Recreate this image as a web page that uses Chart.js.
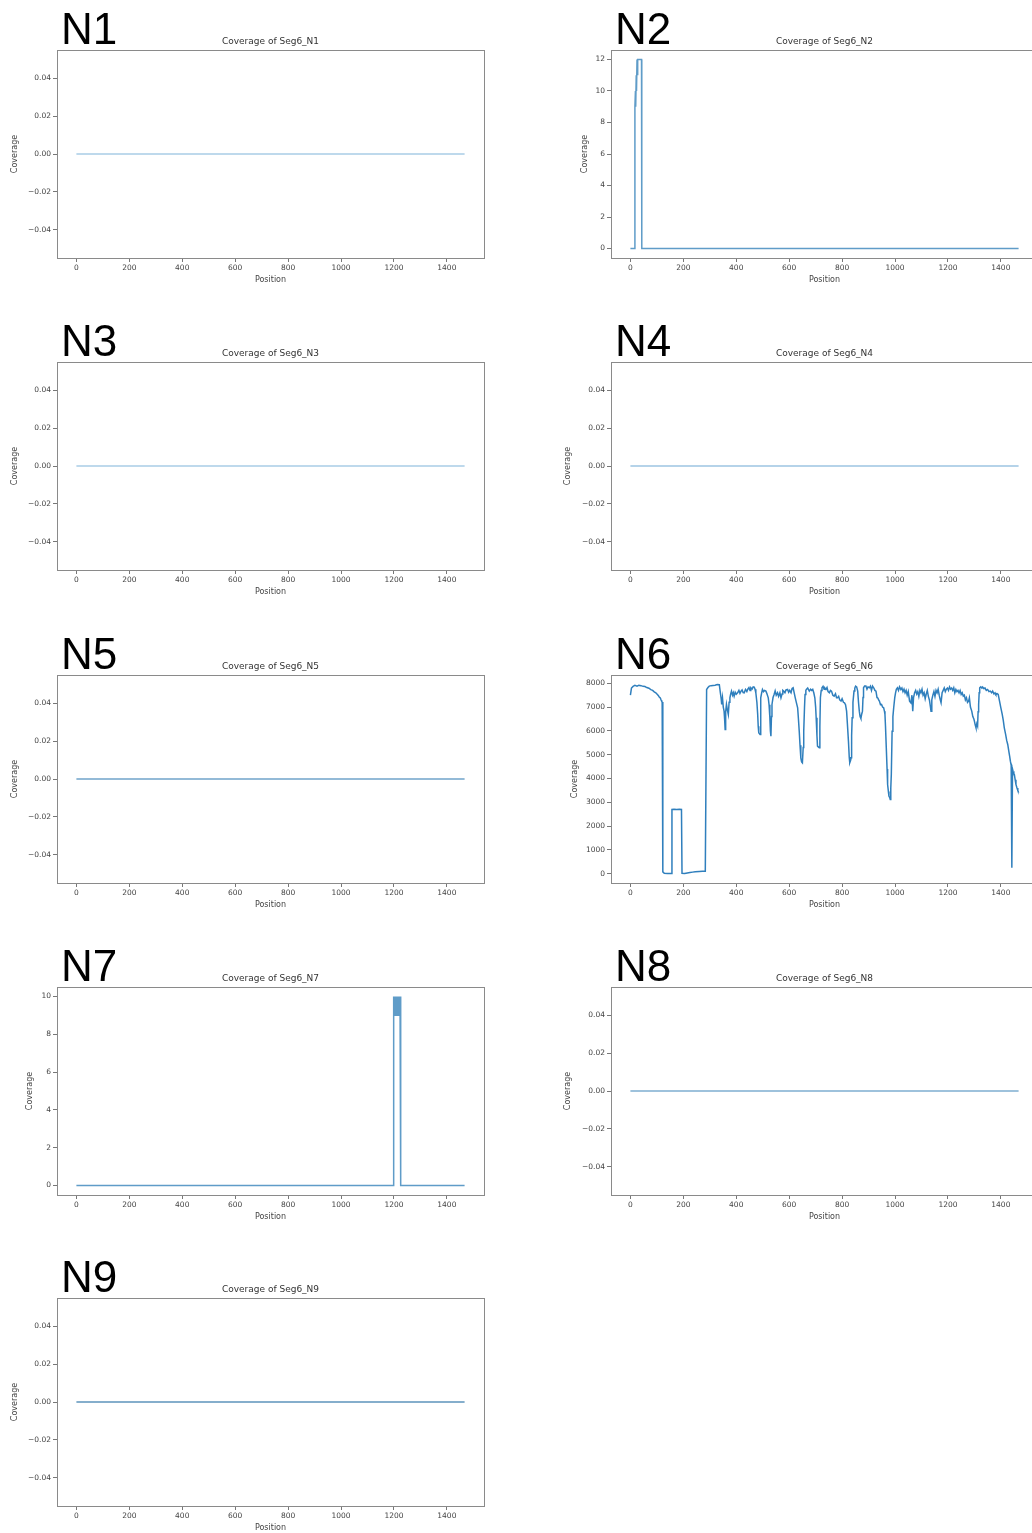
<!DOCTYPE html>
<html>
<head>
<meta charset="utf-8">
<title>Coverage of Seg6</title>
<script src="https://cdn.jsdelivr.net/npm/chart.js@4.4.1/dist/chart.umd.min.js"></script>
<style>
  html, body {
    margin: 0;
    padding: 0;
    background: #ffffff;
  }
  #page {
    position: relative;
    width: 1032px;
    height: 1533px;
    overflow: hidden;
    background: #ffffff;
  }
  .panel {
    position: absolute;
  }
  .panel canvas {
    position: absolute;
    left: 0;
    top: 0;
  }
  .tag {
    position: absolute;
    left: 61px;
    top: 7px;
    font-family: "Liberation Sans", Arial, sans-serif;
    font-size: 44px;
    line-height: 44px;
    color: #000000;
    white-space: nowrap;
  }
</style>
</head>
<body>
<div id="page"></div>

<script>
// Coverage along segment 6, one panel per sample

// Shared x ticks
const xTicks = [0, 200, 400, 600, 800, 1000, 1200, 1400];

// y ticks per panel type
const zeroTicks = [-0.04, -0.02, 0, 0.02, 0.04];
const n2Ticks = [0, 2, 4, 6, 8, 10, 12];
const n6Ticks = [0, 1000, 2000, 3000, 4000, 5000, 6000, 7000, 8000];
const n7Ticks = [0, 2, 4, 6, 8, 10];

// Samples without any coverage
const flatPositions = [0, 1467];
const flatCoverage = [0, 0];

// N2: short block at the start
const n2Positions = [0, 16, 17, 19, 20, 22, 23, 25, 27, 28, 42, 43, 1467];
const n2Coverage = [0, 0, 9, 10, 9, 11, 10, 12, 11, 12, 12, 0, 0];

// N6: full coverage with dropouts
const n6Positions = [
  0, 4, 10, 17, 25, 32, 40, 48, 55, 62, 70, 77, 84, 90, 96, 102, 106, 109, 113, 116, 118, 120, 122,
  123, 128, 140, 150, 156, 157, 165, 175, 185, 193, 195, 205, 215, 225, 235, 245, 260, 272, 283,
  288, 293, 298, 305, 312, 320, 328, 336,
  340, 343, 345, 348, 351, 354, 356, 358, 360, 363, 366, 370, 373, 376, 379, 382, 386, 389, 392, 396,
  400, 405, 410, 414, 418, 422, 426, 430, 435, 440, 443, 448, 452, 455, 460, 464, 468, 471, 474, 478,
  481, 483, 485, 488, 490, 492, 493, 496, 499, 503, 507, 512, 516, 521, 524, 527, 529, 531, 533, 535,
  539, 543, 547, 551, 556, 560, 565, 569, 573, 576, 579, 584, 588, 594, 598, 602, 607, 611, 615, 619,
  623, 627, 632, 635, 638, 641, 644, 647, 650, 653, 655, 658, 660, 663, 665, 670, 676, 681, 685, 689,
  693, 697, 700, 702, 705, 707, 711, 714, 716, 718, 721, 724, 728, 732, 735, 739, 743, 747, 752, 756,
  760, 765, 770, 775, 779, 783, 787, 791, 796, 800, 805, 809, 813, 817, 820, 824, 827, 829, 832, 834,
  836, 838, 841, 845, 848, 851, 855, 859, 862, 865, 868, 871, 874, 877, 879, 881, 885, 890, 894, 898,
  903, 907, 911, 915, 920, 924, 928, 932, 935, 938, 941, 945, 949, 953, 957, 960, 962, 964, 967, 970,
  972, 975, 977, 980, 982, 984, 986, 989, 992, 995, 999, 1002, 1005, 1009,
  1013, 1017, 1022, 1026, 1030, 1034, 1038, 1042, 1046, 1050, 1055, 1060, 1064, 1067, 1070, 1074,
  1078, 1082, 1086, 1090, 1094, 1098, 1102, 1106, 1110, 1114, 1118, 1122, 1126, 1130, 1134, 1136,
  1139, 1143, 1147, 1151, 1155, 1159, 1163, 1167, 1171, 1174, 1178, 1182, 1186, 1190, 1194, 1198,
  1202, 1206, 1210, 1214, 1218, 1222, 1226, 1230, 1234, 1238, 1242, 1246, 1250, 1254, 1258, 1262,
  1266, 1270, 1274, 1278, 1281, 1285, 1290, 1294, 1298, 1300, 1303, 1306, 1309, 1312, 1314, 1316,
  1318, 1320, 1324, 1328, 1331, 1335, 1340, 1345, 1350, 1355, 1360, 1365, 1369, 1374, 1378, 1381,
  1386, 1390, 1395, 1400, 1405, 1409, 1413, 1418, 1422, 1426, 1430, 1433, 1436, 1439, 1441, 1442,
  1444, 1446, 1449, 1451, 1454, 1457, 1461, 1464, 1467
];
const n6Coverage = [
  7500, 7800, 7870, 7910, 7880, 7920, 7900, 7870, 7860, 7820, 7790, 7730, 7700, 7640, 7600, 7530, 7480, 7420, 7380, 7300, 7250, 7210, 7180,
  80, 20, 10, 15, 10, 2700, 2710, 2700, 2710, 2700, 20, 10, 30, 50, 70, 90, 100, 105, 110,
  7740, 7820, 7880, 7900, 7910, 7920, 7950, 7940,
  7600, 7350, 7110, 7390, 7000, 6830, 6500, 6060, 6800, 7110, 6900, 6690, 7200, 7390, 7550, 7670, 7500, 7600, 7460, 7620,
  7540, 7600, 7700, 7580, 7670, 7720, 7610, 7600, 7740, 7650, 7740, 7820, 7700, 7810, 7760, 7850, 7840, 7750, 7600, 7200,
  6690, 6200, 5920, 5880, 5850, 6800, 7390, 7600, 7740, 7650, 7700, 7670, 7560, 7390, 7100, 6550, 6000, 5780, 6600, 7110,
  7400, 7530, 7680, 7500, 7600, 7450, 7600, 7390, 7550, 7700, 7670, 7600, 7720, 7740, 7620, 7700, 7600, 7780, 7810, 7600,
  7390, 7200, 6970, 6500, 5990, 5400, 4870, 4700, 4660, 5300, 5990, 7000, 7530, 7700, 7740, 7800, 7670, 7750, 7700, 7740,
  7600, 7390, 7000, 6550, 5800, 5360, 5320, 5290, 6200, 7390, 7700, 7810, 7870, 7750, 7800, 7740, 7820, 7650, 7600, 7700,
  7670, 7500, 7460, 7560, 7390, 7390, 7450, 7300, 7250, 7350, 7200, 7180, 7100, 6830, 6300, 5570, 4900, 4660, 4750, 4870,
  5800, 6550, 7200, 7670, 7800, 7880, 7850, 7670, 7200, 6830, 6600, 6520, 6700, 6830, 7400, 7810, 7880, 7880, 7750, 7850,
  7810, 7880, 7700, 7880, 7800, 7700, 7670, 7400, 7390, 7300, 7250, 7100, 7110, 7000, 6970, 6830, 6690, 6200, 5290, 4400,
  3750, 3450, 3260, 3200, 3120, 3600, 4170, 5990, 6600, 6970, 7400, 7600, 7750, 7810,
  7700, 7850, 7740, 7800, 7650, 7750, 7600, 7700, 7500, 7650, 7250, 7180, 7500, 6830, 7400, 7600,
  7700, 7550, 7650, 7450, 7700, 7600, 7750, 7500, 7600, 7350, 7550, 7700, 7450, 7300, 7000, 6830,
  7300, 7500, 7650, 7450, 7700, 7600, 7750, 7500, 7300, 7180, 7600, 7700, 7800, 7650, 7750, 7800,
  7700, 7850, 7750, 7800, 7700, 7810, 7600, 7740, 7650, 7700, 7600, 7700, 7530, 7600, 7460, 7500,
  7300, 7390, 7200, 7250, 7390, 7000, 6830, 6600, 6500, 6410, 6250, 6130, 6300, 6200, 6800, 7110,
  7600, 7810, 7850, 7800, 7840, 7780, 7800, 7700, 7740, 7650, 7670, 7600, 7670, 7550, 7600, 7530,
  7560, 7530, 7250, 6970, 6700, 6450, 6130, 5850, 5600, 5430, 5150, 4950, 4730, 4550, 4380, 250,
  4400, 4310, 4200, 4170, 3950, 3750, 3600, 3500, 3400
];

// N7: short block near position 1200
const n7Positions = [0, 1197, 1199, 1201, 1203, 1205, 1207, 1209, 1211, 1213, 1215, 1217, 1219, 1221, 1223, 1225, 1226, 1467];
const n7Coverage = [0, 0, 10, 9, 10, 9, 10, 9, 10, 9, 10, 9, 10, 9, 10, 10, 0, 0];

// Panel placement (layout only)
const panels = [
  { name: "N1", left: 0, top: 0, pos: flatPositions, cov: flatCoverage, ticks: zeroTicks, color: "#a8cce6", pad: 10 },
  { name: "N2", left: 554, top: 0, pos: n2Positions, cov: n2Coverage, ticks: n2Ticks, color: "#5f9cc8", pad: 26 },
  { name: "N3", left: 0, top: 312, pos: flatPositions, cov: flatCoverage, ticks: zeroTicks, color: "#a8cce6", pad: 10 },
  { name: "N4", left: 554, top: 312, pos: flatPositions, cov: flatCoverage, ticks: zeroTicks, color: "#9cc4e2", pad: 9 },
  { name: "N5", left: 0, top: 625, pos: flatPositions, cov: flatCoverage, ticks: zeroTicks, color: "#6fa3ca", pad: 10 },
  { name: "N6", left: 554, top: 625, pos: n6Positions, cov: n6Coverage, ticks: n6Ticks, color: "#2f7fbd", pad: 16 },
  { name: "N7", left: 0, top: 937, pos: n7Positions, cov: n7Coverage, ticks: n7Ticks, color: "#5f9cc8", pad: 25 },
  { name: "N8", left: 554, top: 937, pos: flatPositions, cov: flatCoverage, ticks: zeroTicks, color: "#7eaed0", pad: 9 },
  { name: "N9", left: 0, top: 1248, pos: flatPositions, cov: flatCoverage, ticks: zeroTicks, color: "#5d93bb", pad: 10 },
];

const CANVAS_W = 490;
const CANVAS_H = 285;
const AREA_LEFT = 57;
const AREA_BOTTOM = 258;

// Matplotlib-like autoscale: 5% margin, +-0.05 for constant data
function autoLimits(values) {
  let lo = Math.min(...values);
  let hi = Math.max(...values);
  if (lo === hi) {
    lo -= 0.05;
    hi += 0.05;
  }
  const m = (hi - lo) * 0.05;
  return { min: lo - m, max: hi + m };
}

function formatTick(value, ticks) {
  const step = ticks[1] - ticks[0];
  const txt = step < 1 ? value.toFixed(2) : String(value);
  return txt.replace("-", "\u2212");
}

// Draws the full axes frame
const framePlugin = {
  id: "frame",
  afterDraw(chart) {
    const { ctx, chartArea } = chart;
    ctx.save();
    ctx.strokeStyle = "#8a8a8a";
    ctx.lineWidth = 1;
    ctx.strokeRect(
      Math.round(chartArea.left) + 0.5,
      Math.round(chartArea.top) + 0.5,
      Math.round(chartArea.right - chartArea.left),
      Math.round(chartArea.bottom - chartArea.top)
    );
    ctx.restore();
  },
};

function buildPanel(p) {
  const page = document.getElementById("page");
  const box = document.createElement("div");
  box.className = "panel";
  box.style.left = p.left + "px";
  box.style.top = p.top + "px";
  box.style.width = CANVAS_W + "px";
  box.style.height = CANVAS_H + "px";

  const canvas = document.createElement("canvas");
  canvas.width = CANVAS_W;
  canvas.height = CANVAS_H;
  canvas.style.width = CANVAS_W + "px";
  canvas.style.height = CANVAS_H + "px";
  box.appendChild(canvas);

  const tag = document.createElement("div");
  tag.className = "tag";
  tag.textContent = p.name;
  box.appendChild(tag);

  page.appendChild(box);

  const xLim = autoLimits(p.pos);
  const yLim = autoLimits(p.cov);
  const points = p.pos.map((x, i) => ({ x: x, y: p.cov[i] }));

  const tickFont = { family: "DejaVu Sans", size: 7.5 };
  const labelFont = { family: "DejaVu Sans", size: 8, lineHeight: 1.2 };

  new Chart(canvas, {
    type: "line",
    data: {
      datasets: [
        {
          data: points,
          borderColor: p.color,
          borderWidth: 1.5,
          pointRadius: 0,
          tension: 0,
          fill: false,
        },
      ],
    },
    options: {
      responsive: false,
      animation: false,
      devicePixelRatio: 1,
      layout: {
        padding: { left: p.pad, right: CANVAS_W - 484, top: 0, bottom: 0 },
      },
      plugins: {
        legend: { display: false },
        tooltip: { enabled: false },
        title: {
          display: true,
          text: "Coverage of Seg6_" + p.name,
          fullSize: false,
          color: "#333333",
          font: { family: "DejaVu Sans", size: 9, weight: "normal", lineHeight: 1.2 },
          padding: { top: 36, bottom: 3.2 },
        },
      },
      scales: {
        x: {
          type: "linear",
          min: xLim.min,
          max: xLim.max,
          afterBuildTicks: (scale) => {
            scale.ticks = xTicks.map((v) => ({ value: v }));
          },
          afterFit: (scale) => {
            scale.height = CANVAS_H - AREA_BOTTOM;
          },
          ticks: {
            autoSkip: false,
            maxRotation: 0,
            color: "#444444",
            font: tickFont,
            padding: 2,
            callback: (value) => String(value),
          },
          grid: {
            drawOnChartArea: false,
            drawTicks: true,
            tickLength: 4,
            color: "#777777",
          },
          border: { display: false },
          title: {
            display: true,
            text: "Position",
            color: "#444444",
            font: labelFont,
            padding: 0,
          },
        },
        y: {
          type: "linear",
          min: yLim.min,
          max: yLim.max,
          afterBuildTicks: (scale) => {
            scale.ticks = p.ticks.map((v) => ({ value: v }));
          },
          afterFit: (scale) => {
            scale.width = AREA_LEFT - p.pad;
          },
          ticks: {
            color: "#444444",
            font: tickFont,
            padding: 2,
            callback: (value) => formatTick(value, p.ticks),
          },
          grid: {
            drawOnChartArea: false,
            drawTicks: true,
            tickLength: 4,
            color: "#777777",
          },
          border: { display: false },
          title: {
            display: true,
            text: "Coverage",
            color: "#444444",
            font: labelFont,
            padding: 0,
          },
        },
      },
    },
    plugins: [framePlugin],
  });
}

panels.forEach(buildPanel);
</script>
</body>
</html>
